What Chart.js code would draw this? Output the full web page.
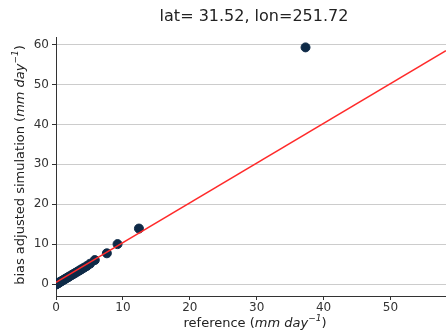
<!DOCTYPE html>
<html>
<head>
<meta charset="utf-8">
<script src="https://cdn.jsdelivr.net/npm/chart.js@4"></script>
<style>
  html, body { margin: 0; padding: 0; background: #fff; overflow: hidden; }
  canvas { display: block; }
</style>
</head>
<body>
<canvas id="c" width="446" height="335"></canvas>
<script>
// datos
const refValues = [0.05, 0.1, 0.2, 0.3, 0.4, 0.5, 0.6, 0.8, 1.0, 1.2, 1.4, 1.6, 1.8, 2.0, 2.3, 2.6, 2.9, 3.2, 3.5, 3.8, 4.2, 4.6, 5.1, 5.8, 7.6, 9.2, 12.4, 37.3];
const simValues = [-0.1, 0.0, 0.1, 0.2, 0.3, 0.4, 0.5, 0.7, 0.9, 1.1, 1.3, 1.5, 1.7, 1.9, 2.2, 2.5, 2.8, 3.1, 3.4, 3.7, 4.1, 4.5, 5.1, 6.0, 7.7, 10.0, 13.9, 59.3];
const fitX = [0, 58.3];
const fitY = [0.4, 58.5];
const xTicks = [0, 10, 20, 30, 40, 50];
const yTicks = [0, 10, 20, 30, 40, 50, 60];
const chartTitle = 'lat= 31.52, lon=251.72';
const xLabel = 'reference';
const yLabel = 'bias adjusted simulation';

const font = 'DejaVu Sans';
Chart.defaults.font.family = font;
Chart.defaults.color = '#333';

// dibuja "texto (mm day^-1)" con partes en cursiva
function drawUnitLabel(ctx, text, cx, cy) {
  const parts = [
    { t: text + ' (', f: '13px "' + font + '"', dy: 0 },
    { t: 'mm day', f: 'italic 13px "' + font + '"', dy: 0 },
    { t: '\u22121', f: 'italic 9px "' + font + '"', dy: -5 },
    { t: ')', f: '13px "' + font + '"', dy: 0 }
  ];
  let total = 0;
  parts.forEach(p => { ctx.font = p.f; p.w = ctx.measureText(p.t).width; total += p.w; });
  let x = cx - total / 2;
  ctx.textAlign = 'left';
  ctx.textBaseline = 'middle';
  parts.forEach(p => { ctx.font = p.f; ctx.fillText(p.t, x, cy + p.dy); x += p.w; });
}

const textPlugin = {
  id: 'textos',
  afterDraw(chart) {
    const ctx = chart.ctx;
    ctx.save();
    ctx.fillStyle = '#222';
    ctx.font = '16px "' + font + '"';
    ctx.textAlign = 'center';
    ctx.textBaseline = 'middle';
    ctx.fillText(chartTitle, 254, 17);
    drawUnitLabel(ctx, xLabel, 255, 324);
    ctx.translate(21, 165);
    ctx.rotate(-Math.PI / 2);
    drawUnitLabel(ctx, yLabel, 0, 0);
    ctx.restore();
  }
};

const scatterPts = refValues.map((x, i) => ({ x: x, y: simValues[i] }));
const linePts = fitX.map((x, i) => ({ x: x, y: fitY[i] }));

new Chart(document.getElementById('c'), {
  type: 'scatter',
  data: {
    datasets: [
      {
        data: scatterPts,
        backgroundColor: '#0e2a47',
        borderColor: '#0e2a47',
        pointRadius: 4.5,
        order: 2
      },
      {
        type: 'line',
        data: linePts,
        borderColor: '#ff2a2a',
        borderWidth: 1.6,
        pointRadius: 0,
        fill: false,
        order: 1
      }
    ]
  },
  options: {
    responsive: false,
    animation: false,
    layout: { autoPadding: false, padding: { top: 37, left: 0, right: 0, bottom: 0 } },
    plugins: { legend: { display: false }, tooltip: { enabled: false } },
    scales: {
      x: {
        type: 'linear',
        min: 0,
        max: 58.3,
        afterBuildTicks(s) { s.ticks = xTicks.map(v => ({ value: v })); },
        ticks: { font: { size: 12 }, color: '#333', padding: 1, maxRotation: 0 },
        grid: { drawOnChartArea: false, tickLength: 4, tickColor: '#333' },
        border: { display: true, color: '#333' },
        afterFit(s) { s.height = 39; s.paddingLeft = 0; s.paddingRight = 0; }
      },
      y: {
        min: -3.0,
        max: 61.9,
        afterBuildTicks(s) { s.ticks = yTicks.map(v => ({ value: v })); },
        ticks: { font: { size: 12 }, color: '#333', padding: 3 },
        grid: { color: '#cccccc', tickLength: 4, tickColor: '#333' },
        border: { display: true, color: '#333' },
        afterFit(s) { s.width = 56; s.paddingTop = 0; s.paddingBottom = 0; }
      }
    }
  },
  plugins: [textPlugin]
});
</script>
</body>
</html>
